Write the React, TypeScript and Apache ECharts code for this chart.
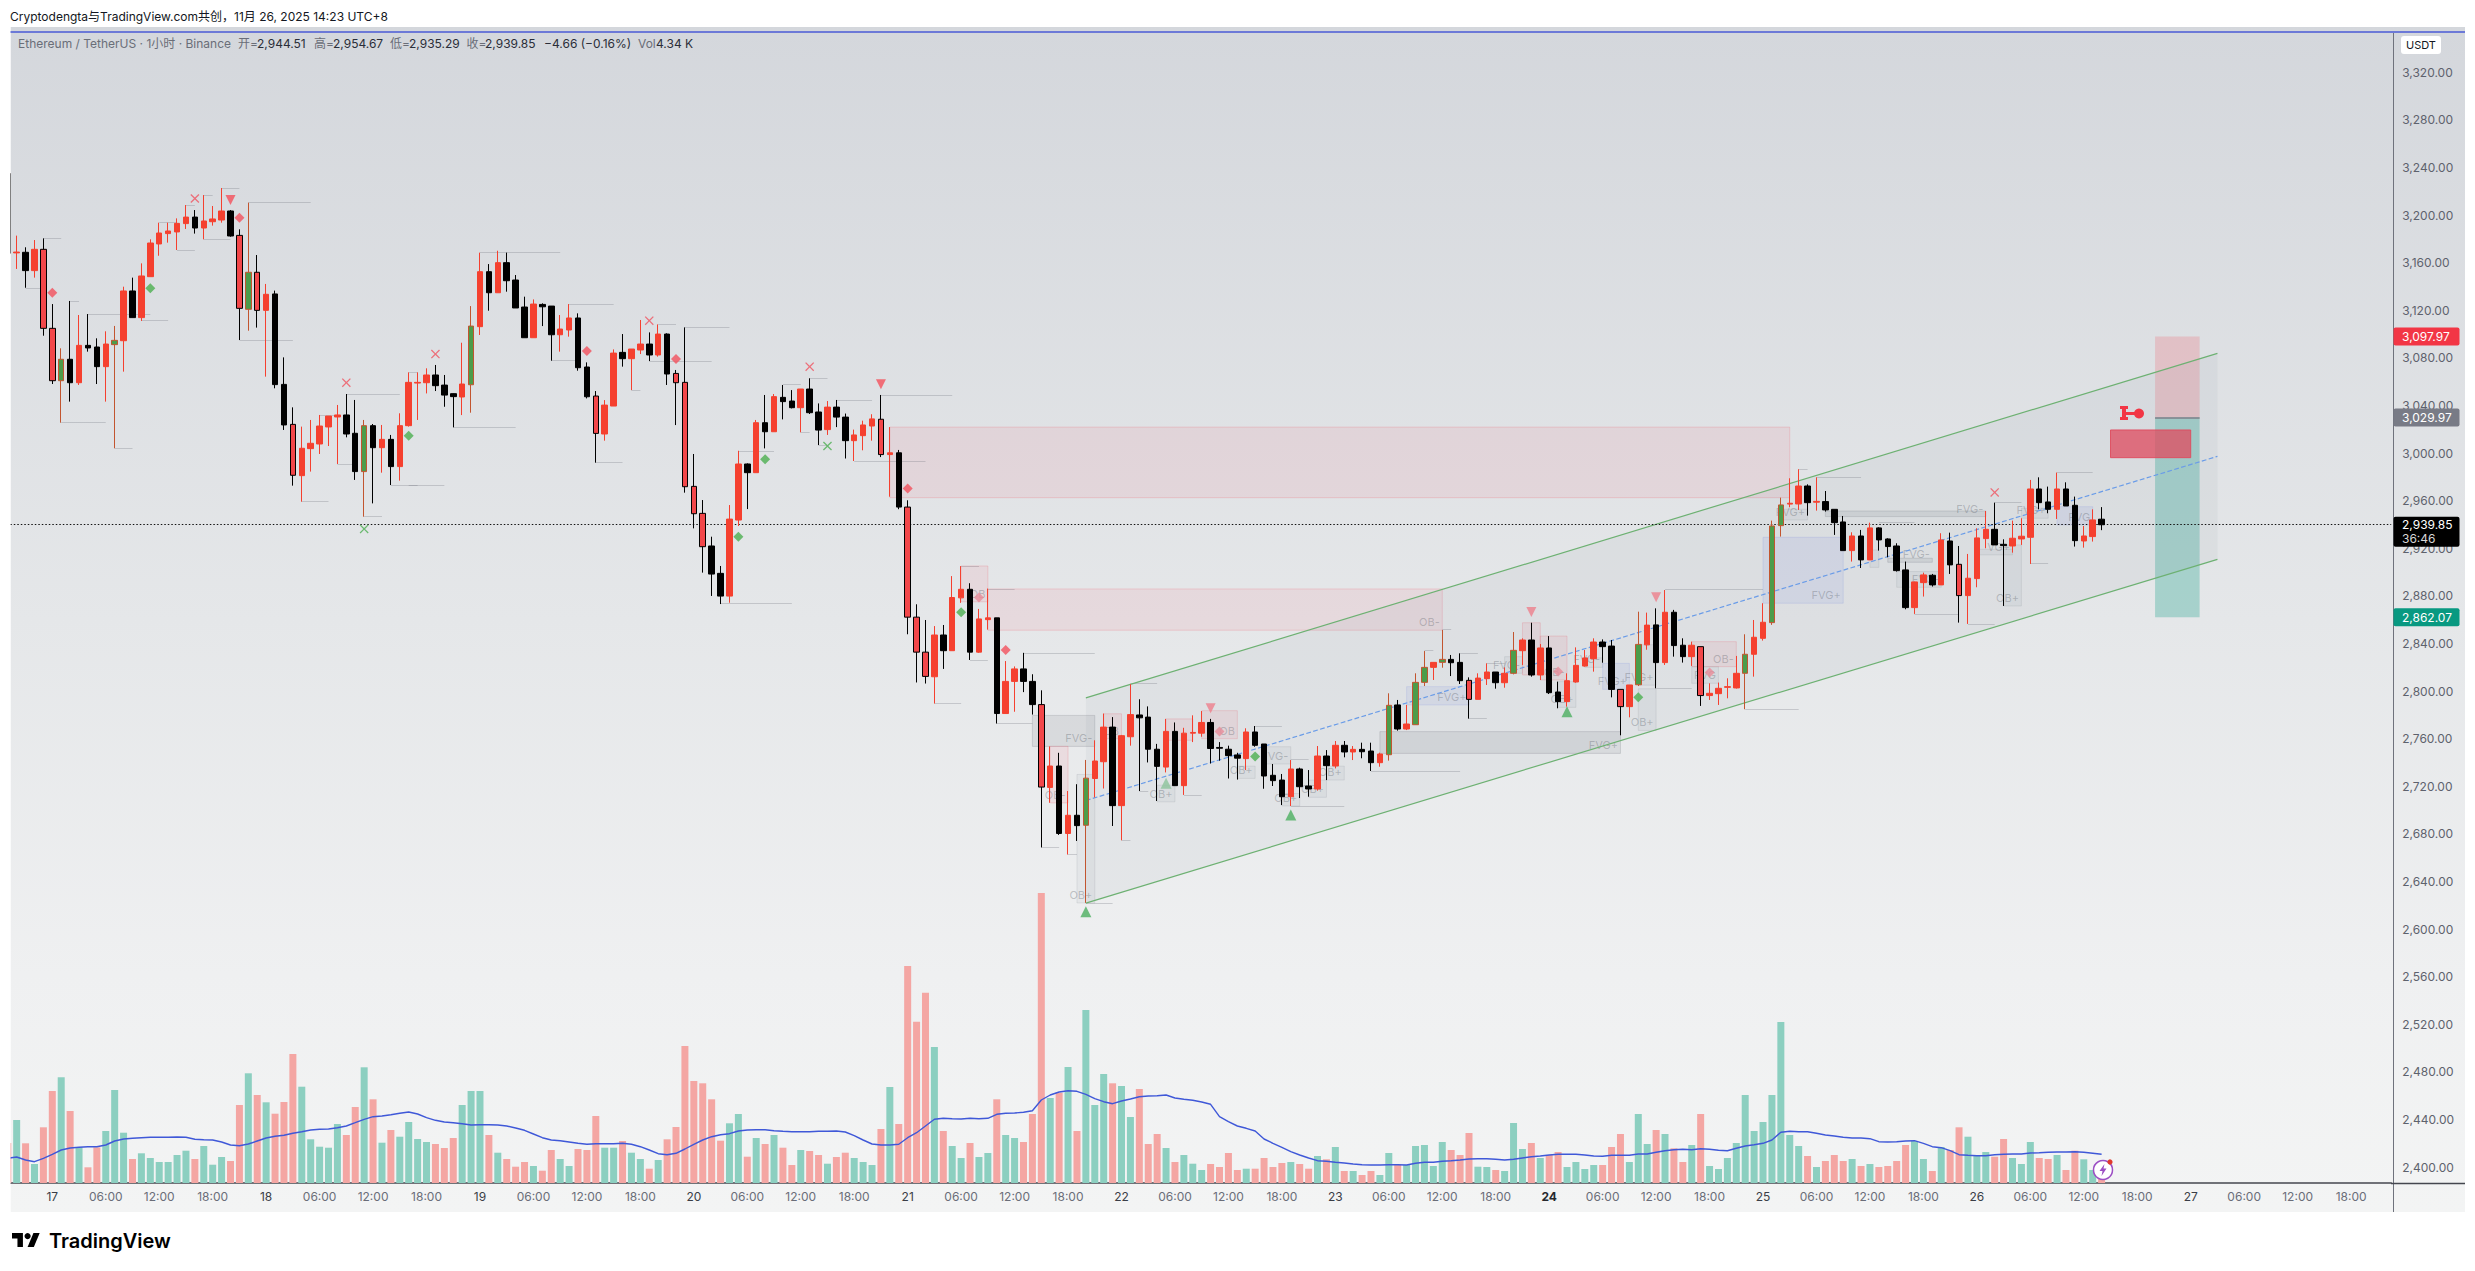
import React, { useEffect, useRef } from "react";
import * as echarts from "echarts";

type Row = [string, number, number, number, number];

// Candles. Columns: kind, body top, body bottom, high, low.
// Kinds: r = up, red; k = down, black; o = down, red with black outline; g = up, green with brown outline.
const nov16: Row[] = [
  ["o",3235,3168,3235,3168],["r",3169,3168.3,3182.8,3154.8],["k",3168.8,3153.4,3173,3139],["r",3171.3,3153.4,3179.1,3147.5],["o",3171.3,3104.9,3180.5,3098.7],
];
const nov17: Row[] = [
  ["o",3104.9,3060.9,3125.3,3058.1],["g",3078.9,3060.9,3088.1,3025.6],["k",3078.9,3059.2,3127.9,3043.3],["r",3090.6,3059.2,3116.1,3057.3],["k",3090.6,3088.4,3116.9,3085.3],["k",3089.2,3072.7,3096.5,3058.1],
  ["r",3091.7,3072.7,3102.4,3043.3],["g",3094.8,3091.2,3106.9,3004.1],["r",3136.3,3094.5,3139.9,3068.5],["k",3136.3,3113.9,3147.5,3113.9],["r",3148.9,3113.9,3159.5,3111.1],["r",3176.6,3148.3,3179.7,3148.3],
  ["r",3185,3175.8,3193.7,3165.9],["r",3186.7,3184.5,3193.7,3176.9],["r",3193.1,3185.9,3197.3,3170.7],["r",3198.4,3192.9,3208.5,3188.4],["k",3198.4,3189.2,3204.3,3184.5],["r",3195.1,3189.2,3216.9,3179.7],
  ["r",3196.8,3194.5,3207.7,3191.2],["r",3203.5,3195.9,3222.8,3193.7],["k",3203.5,3182.5,3204.3,3181.9],["o",3183,3121.7,3188.1,3095.1],["g",3152,3120.9,3210.5,3102.9],["o",3152,3120,3166.5,3105.5],
];
const nov18: Row[] = [
  ["r",3133.5,3120,3142.2,3064.3],["k",3133.8,3057.6,3136.6,3054.5],["k",3057.8,3023.7,3080.5,3019.5],["o",3024.2,2981.4,3038.5,2972.7],["r",3004.1,2981.1,3022.3,2959.2],["r",3008.3,3003.8,3027.9,2984.5],
  ["r",3022.8,3007.7,3032.1,2999.3],["r",3031.2,3022,3031.2,3006],["r",3032.1,3030.4,3040.5,2990.9],["k",3032.1,3016.1,3049.7,3013.3],["k",3016.7,2984.5,3044.7,2977.5],["g",3023.1,2984.5,3027.9,2946.6],
  ["k",3023.1,3004.6,3024.5,2957.8],["r",3011.6,3004.6,3023.7,2983.6],["k",3011.6,2988.7,3015.3,2973.2],["r",3023.1,2988.7,3033.5,2976.9],["r",3059.5,3023.1,3067.9,3022.3],["r",3059.5,3058.9,3067.9,3027.9],
  ["r",3065.7,3059.2,3071.3,3050.2],["k",3065.7,3056.7,3074.1,3052.2],["k",3057.2,3048.8,3065.7,3039],["k",3050,3047.5,3050.2,3021.7],["r",3058.1,3047.2,3092.8,3032],["g",3106.8,3057.5,3123.6,3034],
];
const nov19: Row[] = [
  ["r",3152.5,3106.3,3168.5,3099.3],["k",3152.5,3134.8,3158.9,3119.7],["r",3160.1,3134.8,3170.1,3134.8],["k",3160.1,3144.9,3168.5,3135.7],["k",3145.5,3122,3149.7,3122],["k",3122.8,3097,3131.5,3097],
  ["r",3125.3,3097,3129.2,3097],["k",3125,3123,3125.9,3106.8],["k",3123.6,3099.5,3123.6,3077.7],["r",3104.3,3099.5,3116.1,3085.3],["r",3113.6,3103.5,3125.3,3097.9],["k",3113.6,3071.8,3117.5,3069.3],
  ["k",3072.4,3047.4,3076.3,3046],["o",3048,3016.6,3052.2,2992],["r",3040.4,3016.1,3044.6,3010.5],["r",3084.1,3039.6,3087.2,3039.6],["k",3084.7,3079.4,3100.1,3072.7],["r",3087.5,3079.4,3087.5,3053],
  ["r",3091.7,3086.7,3111.9,3083.3],["k",3091.7,3082.5,3101.5,3077.4],["r",3100.1,3082.5,3108.2,3081.1],["k",3100.1,3066.5,3100.7,3057.3],["o",3067,3059.2,3069.9,3023.6],["o",3059.5,2971.8,3105.7,2966.8],
];
const nov20: Row[] = [
  ["o",2972.1,2949.1,2999.3,2936.8],["o",2949.4,2921.4,2960.6,2899.6],["k",2922,2898.4,2929.8,2880],["k",2899,2879.9,2905.2,2873.2],["r",2944.6,2879.9,2956.4,2874.3],["r",2990.9,2943.8,3002,2938.8],
  ["k",2990.9,2983.6,2991.4,2953],["r",3025.6,2983.6,3027.9,2983.6],["k",3025.6,3018,3048.9,3004],["r",3047.5,3018,3049.7,3018],["k",3046.9,3043.3,3057.3,3028.4],["k",3043.8,3038.2,3053,3037.6],
  ["r",3053.9,3038.2,3053.9,3017.5],["k",3053.9,3034,3062.9,3032.9],["k",3034.6,3019.4,3041.8,3006.8],["r",3038.7,3019.8,3043.8,3015.3],["k",3038.7,3030.3,3044.7,3021.9],["k",3030.3,3010.5,3033.3,2995.5],
  ["r",3015.3,3010.5,3019.8,2993.4],["r",3023.7,3014.7,3027.3,3002.4],["r",3028.8,3022.8,3032.7,3010.5],["o",3028.5,2998.8,3048.9,2996.7],["r",3000.3,2998.8,3021.9,2963.4],["k",3000.3,2954.7,3002.7,2952.9],
];
const nov21: Row[] = [
  ["o",2954.7,2862.2,2960.4,2847.8],["o",2862.2,2832.8,2873,2807.3],["o",2832.8,2812.4,2859.8,2806.4],["r",2847.2,2812.1,2854.7,2789.6],["k",2847.2,2834,2855.6,2818.7],["r",2878.7,2834,2896.7,2834],
  ["r",2885.6,2878.4,2905.1,2874.2],["k",2885.6,2832.8,2890.7,2826.2],["r",2860.7,2832.8,2869.1,2832.2],["r",2861.6,2860.1,2886.2,2851.7],["k",2861.6,2781.2,2861.6,2772.8],["r",2808.2,2781.2,2825.3,2781.2],
  ["r",2818.7,2808.2,2820.8,2782.7],["k",2818.7,2808.2,2832.2,2799.2],["k",2808.2,2788.7,2814.2,2780.3],["o",2788.7,2719.4,2800.7,2668.7],["r",2737.1,2719.1,2753.6,2706.2],["k",2737.1,2680.4,2748.2,2679.2],
  ["r",2695.7,2680.4,2716.1,2662.7],["k",2695.7,2687,2721.8,2674.1],["g",2726.9,2687.3,2742.2,2622.1],["r",2741.3,2726.6,2758.7,2710.7],["r",2769.8,2740.7,2781.2,2718.2],["k",2769.8,2703.8,2778.2,2686.7],
];
const nov22: Row[] = [
  ["r",2762.6,2703.8,2763.2,2674.7],["r",2780.3,2761.7,2805.8,2754.2],["k",2780,2777.6,2793.2,2716.1],["k",2778.2,2751.2,2787.2,2740.1],["k",2751.2,2736.8,2755.7,2707.7],["r",2766.2,2736.2,2776.7,2731.7],
  ["k",2766.2,2720.6,2773.7,2720.6],["r",2764.7,2720.6,2769.2,2712.8],["r",2765.3,2764.7,2779.7,2757.2],["r",2773.7,2764.7,2783.3,2761.7],["k",2773.7,2751.8,2776.7,2739.2],["k",2752.7,2752,2757.2,2741.6],
  ["k",2751.2,2745.8,2754.2,2726.6],["k",2746.4,2743.7,2748.2,2725.7],["r",2765.7,2743.3,2768.8,2733.7],["k",2765.7,2754.5,2770.7,2753.3],["k",2755.6,2728.7,2755.6,2718],["k",2729.3,2724.8,2738.8,2720.3],
  ["k",2725.3,2711.3,2730.4,2704.3],["r",2734.6,2711.3,2742.1,2703.5],["k",2734.6,2719.7,2735.7,2710.2],["k",2720.3,2717.8,2733.7,2711.3],["r",2745.5,2717.8,2753.9,2716.4],["k",2745.5,2737.4,2750.5,2725.3],
];
const nov23: Row[] = [
  ["r",2754.5,2737.1,2758.1,2735.1],["k",2754.5,2748.9,2758.1,2744.4],["r",2751.1,2748.9,2753.9,2742.1],["k",2751.1,2749.1,2756.7,2743.6],["k",2749.7,2739.9,2756.7,2732.9],["r",2747.2,2739.9,2748.3,2736.5],
  ["g",2788.1,2746.6,2798.2,2741.6],["k",2788.4,2768.2,2792.6,2766.8],["r",2772.4,2768.2,2788.4,2767.3],["g",2807.4,2771.8,2815,2771.8],["g",2820,2807.4,2833.7,2804.3],["r",2824.2,2820,2824.2,2809.4],
  ["g",2826.7,2824.2,2851.4,2819.7],["k",2826.7,2823.9,2830.4,2812.7],["k",2824.2,2808.8,2831.8,2806],["o",2809.1,2793.1,2811.6,2776.9],["r",2811,2793.1,2815,2793.1],["r",2816.1,2810.5,2823.4,2805.2],
  ["k",2816.1,2807.1,2816.1,2802.1],["r",2815,2807.1,2820,2802.9],["g",2834.3,2815,2849.7,2814.1],["r",2843,2834,2844.4,2822],["k",2843,2813.6,2857.5,2812.2],["r",2836.3,2813.6,2839.6,2809.4],
];
const nov24: Row[] = [
  ["k",2836.3,2798.7,2846.3,2797.6],["k",2799.3,2791.2,2808,2785.6],["r",2808.8,2791.2,2815,2787],["r",2821.7,2807.7,2836.8,2807.1],["r",2827.9,2821.1,2834.6,2820.6],["r",2841.3,2827.3,2844.4,2816.4],
  ["k",2841.3,2837.4,2843.5,2823.9],["k",2837.9,2801.5,2843,2794.8],["o",2801.5,2787,2801.5,2762.9],["r",2805.2,2787,2805.2,2778],["g",2839.3,2805.4,2866.8,2804.3],["r",2855.5,2838.9,2866,2834.8],
  ["k",2855.7,2824,2869.6,2802.4],["r",2866.3,2824,2885,2822],["k",2866.3,2838.3,2868.3,2829],["k",2838.6,2829,2844.4,2824],["r",2838.6,2829,2841.6,2821.2],["o",2837.4,2796.3,2837.4,2787.6],
  ["r",2798.2,2796.3,2806.6,2792.6],["r",2802.4,2797.9,2807.2,2788.4],["r",2803.8,2803.2,2810.8,2794],["r",2815,2802.7,2829.6,2802.2],["g",2831,2815,2847.8,2784.8],["r",2845.3,2831,2859.8,2812.2],
];
const nov25: Row[] = [
  ["r",2857.9,2844.4,2873.9,2842.5],["g",2938.8,2857.6,2943.3,2855.7],["g",2956.5,2939.1,2962.6,2929.9],["r",2957.9,2957.2,2978.9,2954.5],["r",2972.4,2957.3,2986.5,2952.3],["k",2972.4,2958.4,2973.8,2947.5],
  ["r",2959.5,2958.8,2979.7,2951.7],["k",2959.3,2952.3,2968.2,2950.9],["k",2952.8,2941.6,2952.8,2931.3],["k",2942.2,2918.1,2947.2,2918.1],["r",2930.4,2918.1,2933.5,2908.9],["k",2930.4,2910.3,2935.5,2903.5],
  ["r",2937.2,2910.3,2941.6,2910.3],["k",2937.2,2927.1,2937.7,2918.1],["k",2927.9,2921.5,2928.5,2912.5],["k",2922,2901.3,2924.3,2900.5],["k",2901.9,2870.2,2908.9,2868.8],["r",2891.8,2870.2,2892.1,2864.9],
  ["r",2897.7,2891.2,2899.6,2879.5],["k",2897.4,2889.3,2898.5,2887.9],["r",2927.1,2889.3,2932.7,2889.3],["k",2926.2,2906.1,2933.2,2898.5],["o",2906.6,2880.3,2922,2857.6],["r",2894.9,2880.3,2915.3,2856.5],
];
const nov26: Row[] = [
  ["r",2928.8,2894.6,2936.9,2887.3],["r",2936,2928.2,2951.4,2920.1],["k",2936,2922.9,2958.4,2922.9],["k",2923.4,2922.3,2927.6,2871.6],["r",2928.5,2922,2943.3,2916.4],["r",2930.2,2927.9,2945.3,2922.9],
  ["r",2969.9,2929.3,2977.5,2906.9],["k",2969.9,2958.4,2979.7,2952.8],["k",2959,2952.8,2971.9,2949.5],["r",2969.9,2952.8,2983.7,2944.7],["k",2969.9,2955.6,2975.5,2955.6],["k",2956.2,2926.5,2963.5,2921.5],
  ["r",2930.4,2926.2,2938.8,2920.6],["r",2943.9,2929.9,2952.8,2925.7],["k",2944.51,2939.85,2954.67,2935.29],
];
const candleDays = [nov16, nov17, nov18, nov19, nov20, nov21, nov22, nov23, nov24, nov25, nov26];

// Hourly volume in thousands.
const vol16 = [40,63,39.7,19,55.7];
const vol17 = [92,105.7,72,35.7,15.7,35.7,52,93,50.3,24,29.7,25,21,21,28,32.3,24,37,18.3,26,22,78,109.7,88];
const vol18 = [80.7,69.3,81,129,96.3,43.7,36.3,35.3,59,48,76,115.7,83.7,40.3,53,46.3,61,44,41,39,35,45,78,92];
const vol19 = [92,48,30.3,24,16.3,21,17,12.3,33,24,17,34,33,67,35.3,35.3,42,30.3,24,14.3,23,43.7,56,137];
const vol20 = [102,99.7,83.7,42.3,59.7,69,26.3,45,39,48,35.3,18,33,32,28,19.3,26,30.3,25,21,18,54,96,59];
const vol21 = [217,161.3,190.3,136,52,37,25,40,26,30,83.7,48,45,41,69,290,85,90.3,116,52,173,78,109,99.7];
const vol22 = [97,66,94,39,49,35,21,28,19.3,13,19,16,30,13,14.3,14.3,25,16,20,21,19,14.3,27,23.7];
const vol23 = [36,12,12,8,12,8,30,18,18,37,38,17,41,33,28,50,16.3,16,13,12,60,34,40,25];
const vol24 = [28,31,16,21,14,18,18,36,49,21,69,39,53,49,34.7,21,38,69,17,14,25,40,88,52];
const vol25 = [61,88,161,48,37,27,16,22,28,22,24,17,19,16,17,22,38,42,24,12,36,33,55.7,46.3];
const vol26 = [28,31,26.3,44,25,19,41,25,24,28,13,32.3,23.7,13,4.34];
const volumes = [vol16, vol17, vol18, vol19, vol20, vol21, vol22, vol23, vol24, vol25, vol26].flat();

// Moving average of volume.
const ma16 = [24.7,26,23,21.3,24.7];
const ma17 = [28.7,33,35,35.7,36.3,36.3,38,42,44,44.7,45.3,45.7,45.7,45.7,46,45.7,43.7,43.3,43,41,38,37.3,39,42];
const ma18 = [45,46.7,47.7,49.7,51.3,53,53.7,54,55.3,57,60.3,63.7,66.3,67,68.3,69.7,71,69,65.3,62.7,61,60.3,59.3,58];
const ma19 = [58.3,58.3,58,57,55,52.7,49,45.3,43,42.3,41,39.7,38.7,39.3,39.3,39.3,39.7,38.7,36.3,33,29.3,28.3,29.7,34];
const ma20 = [38.7,43,46.3,48.3,49.3,52,53,53.3,53.3,52.3,51.7,51.3,51.3,51.3,51.7,51.7,52,51,47.3,43,39,38,38,38.7];
const ma21 = [45.3,50.3,57,63.7,64.7,64.3,64,64.7,64.3,64.7,68.7,69.7,70,70.7,72.3,83,88,91,92.3,91.7,88.7,84.3,81.3,79.3];
const ma22 = [82,84,86.3,87,87.3,88,85,83.7,82.7,81,78.7,66.3,61.3,57,54.7,52,44,39.7,35.7,31.3,28,25,22.3,21.7];
const ma23 = [20.7,20,19,18.3,18,18,18.3,18.3,18,19.7,20.7,20.7,21.7,22.3,23,24,24.3,24.3,23.7,23,23.7,25,26.3,27];
const ma24 = [28,28.7,28.7,28.7,28,27,26.7,27.7,27.7,27.7,29,29,30.7,32.3,33.3,33.7,33.3,34.3,33.7,32.7,32.3,34.7,37,38.3];
const ma25 = [39.7,43,50.7,51.7,51.3,51.3,49.7,48,47,45.7,45,45,44.3,41.3,41,41.3,42,42.3,39.7,36.3,35.3,32.3,28.3,27.7];
const ma26 = [27.3,27.3,28.3,28.7,29,29,30,30.3,30.7,31,31,31.3,30.7,29.7,28.7];
const volumeMa = [ma16, ma17, ma18, ma19, ma20, ma21, ma22, ma23, ma24, ma25, ma26].flat();

// Hours from 17 Nov 00:00 (negative = 16 Nov). Last slot on the axis is +262.
const firstHour = -5;
const lastHour = 262;

const priceTicksMin = 2360;
const priceTicksMax = 3360;
const lastPrice = 2939.85;
const stopPrice = 3097.97;
const entryPrice = 3029.97;
const targetPrice = 2862.07;

// Markers: [hour, price]
const crossRed = [[16,3214],[33,3059.2],[43,3083.3],[67,3111.3],[85,3072.7],[218,2967]];
const triangleDown = [[20,3212.7],[93,3057.9]];
const triangleDownPale = [[130,2785.7],[166,2866.5],[180,2878.9]];
const diamondRed = [[0,3134.9],[21,3197.9],[60,3085.8],[70,3079.1],[96,2970.3],[107,2834.6]];
const diamondPale = [[104,2878.7],[131,2766.2],[169,2816.6],[186,2815.6]];
const diamondGreen = [[11,3138.5],[40,3014.7],[77,2929.8],[80,2994.8],[102,2866.4],[135,2745],[178,2794.8]];
const crossGreen = [[35,2936.3],[87,3006]];
const triangleUp = [[116,2614.7],[139,2696],[170,2782.8]];
const triangleUpPale = [[125,2722.7]];

// Zones: [from hour, to hour, top, bottom, style, label]
const zones: [number, number, number, number, string, string][] = [
  [94,195,3021.9,2962.6,"red",""],
  [105,156,2885.9,2851.2,"red","OB-"],
  [102,105,2905.2,2875.1,"red","OB"],
  [110,117,2779.6,2753.6,"gray","FVG-"],
  [112,114,2753.6,2706.1,"red","OB-"],
  [115,117,2730,2622,"light","OB+"],
  [118,120,2781,2760,"red","OB"],
  [124,126,2721,2707,"light","OB+"],
  [125,128,2776.7,2758.7,"red",""],
  [129,133,2783.6,2760,"red","OB"],
  [133,135,2737,2726.7,"light","OB+"],
  [136,139,2753.3,2738.8,"light","FVG-"],
  [138,140,2714,2703.5,"light","OB+"],
  [141,143,2725.3,2710.8,"light","OB+"],
  [143,145,2737,2725.3,"light","OB+"],
  [149,176,2766,2747.7,"gray","FVG+"],
  [152,159,2803.8,2788.4,"blue","FVG+"],
  [163,165,2829,2815,"light","FVG-"],
  [165,167,2857.5,2813.6,"red",""],
  [167,170,2846.3,2809.4,"red","OB-"],
  [169,171,2808,2786.4,"light","OB+"],
  [172,174,2828,2820,"light","FVG-"],
  [174,177,2823.4,2801.5,"blue","FVG+"],
  [178,180,2802,2767,"light","OB+"],
  [178,180,2839,2805,"light","FVG+"],
  [184,189,2841.6,2820.6,"red","OB-"],
  [184,187,2820.6,2806.6,"light","FVG"],
  [192,201,2929.3,2873.9,"blue","FVG+"],
  [194,197,2952.9,2943.9,"light","FVG+"],
  [199,217,2951.4,2946.7,"gray","FVG-"],
  [204,205,2918.6,2904,"light",""],
  [206,211,2911.7,2908.3,"gray","FVG-"],
  [207,212,2900.5,2887.3,"light","FVG-"],
  [216,220,2919.2,2914.5,"light","VG+"],
  [219,221,2922.9,2871.6,"light","OB+"],
  [221,224,2953.7,2945.3,"light","FVG+"],
  [225,229,2955,2939.7,"blue","FVG"],
];

// Swing-level marks: [from hour, to hour, price]
const swingLevels = [
  [-1,1,3180.5],[-3,-1,3139],[2,3,3127.9],[4,11,3116.9],[10,13,3111.6],[1,6,3025.6],[7,9,3004],[12,14,3193.7],[14,16,3170.7],[15,16,3208.5],[17,18,3217],[17,20,3179.7],
  [19,21,3223],[22,29,3210.5],[21,27,3095],[33,39,3049.7],[28,31,2959.2],[30,32,3032],[32,34,2991],[35,37,2946.6],[38,41,2973.2],[40,41,3068],[48,57,3169],[45,52,3021.7],
  [58,63,3125.3],[56,59,3077.7],[68,70,3108],[71,76,3105.7],[67,74,3077.4],[61,64,2992],[65,66,3053],[82,84,3057.8],[85,87,3063],[77,81,3002],[75,83,2873.5],[40,44,2973],
  [84,85,3017.5],[86,87,3006.3],[88,92,3044.7],[90,98,2993.4],[93,101,3049],[99,102,2789.6],[102,104,2905],[103,105,2826],[105,108,2886],[106,110,2773],[109,117,2832.2],
  [111,113,2668.7],[114,115,2662.7],[116,119,2622],[121,124,2806.7],[122,123,2716],[127,129,2712.8],[120,121,2674.7],[135,138,2770.7],[139,141,2742.7],[139,145,2703.5],
  [148,158,2733],[156,157,2851.9],[158,160,2831.8],[154,155,2834],[159,161,2776.9],[161,163,2823.4],[181,192,2885.6],[180,184,2802.4],[190,196,2784.8],[196,197,2986.5],
  [198,203,2979.7],[205,209,2942],[209,214,2864.9],[215,218,2856.5],[222,224,2907.5],[225,229,2983.7],[218,221,2958.4],
];

// Rising channel: [hour, price] ends
const channelHours = [116, 243];
const channelUpper = [2794.3, 3083.9];
const channelLower = [2621.9, 2910.8];
const channelMiddle = [2708.1, 2997.3];

const positionHours = [236, 241];
const signalBox = [231, 240, 3019.5, 2996.2];

const axisFont = "Inter, 'Noto Sans', sans-serif";
const cjkFont = "Inter, 'Noto Sans CJK SC', sans-serif";

const kindStyle: Record<string, { fill: string; edge: string }> = {
  r: { fill: "#f5402f", edge: "#f5402f" },
  k: { fill: "#000000", edge: "#000000" },
  o: { fill: "#f2474a", edge: "#000000" },
  g: { fill: "#4c9c4a", edge: "#c2552f" },
};

const zoneStyle: Record<string, { fill: string; edge: string }> = {
  red: { fill: "rgba(239,83,100,0.09)", edge: "rgba(239,83,100,0.2)" },
  gray: { fill: "rgba(110,113,125,0.13)", edge: "rgba(110,113,125,0.22)" },
  blue: { fill: "rgba(90,110,235,0.09)", edge: "rgba(90,110,235,0.14)" },
  light: { fill: "rgba(120,130,135,0.07)", edge: "rgba(120,130,135,0.15)" },
};

const idx = (hour: number) => hour - firstHour;

function hourLabel(hour: number): string {
  const h = ((hour % 24) + 24) % 24;
  if (h === 0) {
    const day = 17 + hour / 24;
    return day === 24 ? `{bold|${day}}` : `{day|${day}}`;
  }
  return `${String(h).padStart(2, "0")}:00`;
}

const formatPrice = (p: number) =>
  p.toLocaleString("en-US", { minimumFractionDigits: 2, maximumFractionDigits: 2 });

function buildOption() {
  const hours: string[] = [];
  for (let h = firstHour; h <= lastHour; h++) hours.push(String(h));
  const candles = candleDays.flat();
  const bandWidth = 8.91;
  const gridLeft = 3.3;
  const gridWidth = bandWidth * hours.length;

  const candleData = candles.map((c) => {
    const [kind, top, bottom, high, low] = c;
    const up = kind === "r" || kind === "g";
    const st = kindStyle[kind];
    return {
      value: [up ? bottom : top, up ? top : bottom, low, high],
      itemStyle: {
        color: st.fill,
        color0: st.fill,
        borderColor: st.edge,
        borderColor0: st.edge,
        borderColorDoji: st.edge,
        borderWidth: 1,
      },
    };
  });

  const volumeData = volumes.map((v, i) => {
    const kind = candles[i][0];
    const up = kind === "r" || kind === "g";
    return { value: v, itemStyle: { color: up ? "#8ccfc0" : "#f4a6a3" } };
  });

  const zoneData = zones.map(([a, b, top, bottom, style, label]) => [
    {
      xAxis: idx(a),
      yAxis: top,
      name: label,
      itemStyle: { color: zoneStyle[style].fill, borderColor: zoneStyle[style].edge, borderWidth: 1 },
      label: {
        show: !!label,
        position: "insideBottomRight",
        distance: 3,
        color: "rgba(70,75,85,0.3)",
        fontSize: 11,
        fontFamily: axisFont,
      },
    },
    { xAxis: idx(b), yAxis: bottom },
  ]);

  const levelData = swingLevels.map(([a, b, p]) => [
    { xAxis: idx(a), yAxis: p },
    { xAxis: idx(b), yAxis: p },
  ]);

  const channelLine = (prices: number[], color: string, type: string) => [
    { xAxis: idx(channelHours[0]), yAxis: prices[0], lineStyle: { color, width: 1.2, type } },
    { xAxis: idx(channelHours[1]), yAxis: prices[1] },
  ];

  const scatter = (data: number[][], symbol: string, size: number, color: string, rotate = 0) => ({
    type: "scatter",
    xAxisIndex: 0,
    yAxisIndex: 0,
    symbol,
    symbolSize: size,
    symbolRotate: rotate,
    itemStyle: { color },
    z: 8,
    silent: true,
    data: data.map(([h, p]) => [idx(h), p]),
  });
  const crossPath = "path://M1 0 L5 4 L9 0 L10 1 L6 5 L10 9 L9 10 L5 6 L1 10 L0 9 L4 5 L0 1 Z";

  return {
    animation: false,
    backgroundColor: "#ffffff",
    textStyle: { fontFamily: axisFont },
    grid: [
      { left: gridLeft, top: 24.76, width: gridWidth, height: 1190 },
      { left: gridLeft, top: 33, width: gridWidth, height: 1150 },
    ],
    xAxis: [
      { type: "category", gridIndex: 0, data: hours, show: false, boundaryGap: true },
      {
        type: "category",
        gridIndex: 1,
        data: hours,
        boundaryGap: true,
        axisLine: { lineStyle: { color: "#45474f", width: 1.5 } },
        axisTick: { show: false },
        splitLine: { show: false },
        axisLabel: {
          interval: (i: number) => (i + firstHour) % 6 === 0 && i + firstHour >= 0,
          formatter: (_: string, i: number) => hourLabel(i + firstHour),
          color: "#6a6d78",
          fontFamily: axisFont,
          fontSize: 12,
          margin: 7,
          rich: {
            day: { color: "#3a3d46", fontSize: 12, fontFamily: axisFont },
            bold: { color: "#26282e", fontSize: 12, fontWeight: 700, fontFamily: axisFont },
          },
        },
      },
    ],
    yAxis: [
      {
        type: "value",
        gridIndex: 0,
        position: "right",
        min: priceTicksMin,
        max: priceTicksMax,
        interval: 40,
        axisLine: { show: false },
        axisTick: { show: false },
        splitLine: { show: false },
        axisLabel: {
          margin: 11,
          color: "#5e626d",
          fontFamily: axisFont,
          fontSize: 12,
          padding: [0, 0, 2, 0],
          formatter: (v: number) => (v === priceTicksMin || v === priceTicksMax ? "" : formatPrice(v)),
        },
      },
      { type: "value", gridIndex: 1, min: 0, max: 1150, show: false, splitLine: { show: false } },
    ],
    series: [
      {
        type: "bar",
        xAxisIndex: 1,
        yAxisIndex: 1,
        barWidth: 7,
        z: 1,
        silent: true,
        data: volumeData,
      },
      {
        type: "line",
        xAxisIndex: 1,
        yAxisIndex: 1,
        showSymbol: false,
        symbol: "none",
        z: 2,
        silent: true,
        lineStyle: { color: "#3f58d8", width: 1.4 },
        data: volumeMa,
      },
      {
        type: "custom",
        xAxisIndex: 0,
        yAxisIndex: 0,
        z: 2,
        silent: true,
        data: [[idx(channelHours[0]), channelUpper[0]]],
        renderItem: (_: unknown, api: any) => {
          const pts = [
            api.coord([idx(channelHours[0]), channelUpper[0]]),
            api.coord([idx(channelHours[1]), channelUpper[1]]),
            api.coord([idx(channelHours[1]), channelLower[1]]),
            api.coord([idx(channelHours[0]), channelLower[0]]),
          ];
          return { type: "polygon", shape: { points: pts }, style: { fill: "rgba(120,130,145,0.075)" } };
        },
      },
      {
        type: "line",
        xAxisIndex: 0,
        yAxisIndex: 0,
        z: 3,
        silent: true,
        data: [],
        markArea: {
          silent: true,
          data: [
            ...zoneData,
            [
              { xAxis: idx(positionHours[0]), yAxis: stopPrice, itemStyle: { color: "rgba(242,54,69,0.18)" } },
              { xAxis: idx(positionHours[1]), yAxis: entryPrice },
            ],
            [
              { xAxis: idx(positionHours[0]), yAxis: entryPrice, itemStyle: { color: "rgba(8,153,129,0.28)" } },
              { xAxis: idx(positionHours[1]), yAxis: targetPrice },
            ],
            [
              { xAxis: idx(signalBox[0]), yAxis: signalBox[2], itemStyle: { color: "rgba(232,70,90,0.75)", borderColor: "rgba(232,70,90,0.9)", borderWidth: 1 } },
              { xAxis: idx(signalBox[1]), yAxis: signalBox[3] },
            ],
          ],
        },
      },
      {
        type: "line",
        xAxisIndex: 0,
        yAxisIndex: 0,
        z: 4,
        silent: true,
        data: [],
        markLine: {
          silent: true,
          symbol: "none",
          label: { show: false },
          lineStyle: { color: "rgba(115,118,128,0.3)", width: 1, type: "solid" },
          data: [
            ...levelData,
            channelLine(channelUpper, "#6db172", "solid"),
            channelLine(channelLower, "#6db172", "solid"),
            channelLine(channelMiddle, "#6a9ce8", "dashed"),
            [
              { xAxis: idx(positionHours[0]), yAxis: entryPrice, lineStyle: { color: "#7c7f88", width: 1.5, type: "solid" } },
              { xAxis: idx(positionHours[1]), yAxis: entryPrice },
            ],
          ],
        },
      },
      {
        type: "candlestick",
        xAxisIndex: 0,
        yAxisIndex: 0,
        barWidth: 6,
        z: 6,
        silent: true,
        data: candleData,
      },
      {
        type: "line",
        xAxisIndex: 0,
        yAxisIndex: 0,
        z: 7,
        silent: true,
        data: [],
        markLine: {
          silent: true,
          symbol: "none",
          label: { show: false },
          lineStyle: { color: "#111111", width: 1, type: [1.5, 2] },
          data: [{ yAxis: lastPrice }],
        },
      },
      scatter(crossRed, crossPath, 9, "#f0525f"),
      scatter(triangleDown, "triangle", 10, "#f4505b", 180),
      scatter(triangleDownPale, "triangle", 10, "#ee7f8c", 180),
      scatter(diamondRed, "diamond", 10, "#f2505c"),
      scatter(diamondPale, "diamond", 10, "#e98b98"),
      scatter(diamondGreen, "diamond", 10, "#4caf50"),
      scatter(crossGreen, crossPath, 9, "#4caf50"),
      scatter(triangleUp, "triangle", 11, "#4caf60"),
      scatter(triangleUpPale, "triangle", 11, "#8cc39b"),
    ],
  };
}

function overlayGraphics(chart: echarts.ECharts) {
  const yOf = (p: number) => chart.convertToPixel({ yAxisIndex: 0 }, p) as number;
  const top = 27;
  const bottom = 1212;
  const panelLeft = 10.5;
  const panelRight = 2465;
  const axisX = 2393.5;

  const label = (x: number, y: number, text: string, fill: string, fontSize = 12, extra: object = {}) => ({
    type: "text",
    x,
    y,
    z: 70,
    silent: true,
    style: { text, fill, fontSize, fontFamily: cjkFont, verticalAlign: "middle", align: "left", ...extra },
  });
  const tag = (price: number, fill: string) => ({
    type: "group",
    z: 70,
    silent: true,
    children: [
      {
        type: "rect",
        z: 70,
        shape: { x: axisX, y: yOf(price) - 9, width: 66, height: 18, r: 2 },
        style: { fill },
      },
      label(axisX + 8.5, yOf(price), formatPrice(price), "#ffffff"),
    ],
  });

  const legendGray = "#6a6e78";
  const legendDark = "#2a2e39";

  return [
    {
      type: "rect",
      z: -5,
      silent: true,
      shape: { x: panelLeft, y: top, width: panelRight - panelLeft, height: bottom - top },
      style: {
        fill: {
          type: "linear",
          x: 0,
          y: 0,
          x2: 0,
          y2: 1,
          colorStops: [
            { offset: 0, color: "#d4d7dc" },
            { offset: 0.5, color: "#e5e7e9" },
            { offset: 0.8, color: "#eff0f1" },
            { offset: 1, color: "#f3f4f4" },
          ],
        },
      },
    },
    { type: "rect", z: 60, silent: true, shape: { x: 0, y: 0, width: panelLeft, height: 1271 }, style: { fill: "#ffffff" } },
    { type: "rect", z: 60, silent: true, shape: { x: 0, y: 0, width: 2475, height: top }, style: { fill: "#ffffff" } },
    { type: "line", z: 61, silent: true, shape: { x1: panelLeft, y1: 32, x2: panelRight, y2: 32 }, style: { stroke: "#4a5ad6", lineWidth: 1.5 } },
    { type: "line", z: 61, silent: true, shape: { x1: axisX, y1: 33, x2: axisX, y2: bottom }, style: { stroke: "#6f727c", lineWidth: 1 } },
    { type: "line", z: 61, silent: true, shape: { x1: 2391, y1: 1183.5, x2: panelRight, y2: 1183.5 }, style: { stroke: "#45474f", lineWidth: 1.5 } },

    label(10, 16, "Cryptodengta与TradingView.com共创，11月 26, 2025 14:23 UTC+8", "#131722", 12),
    label(18, 43, "Ethereum / TetherUS · 1小时 · Binance", legendGray),
    label(238, 43, "开=", legendGray),
    label(257, 43, "2,944.51", legendDark),
    label(314, 43, "高=", legendGray),
    label(333, 43, "2,954.67", legendDark),
    label(390, 43, "低=", legendGray),
    label(409, 43, "2,935.29", legendDark),
    label(466.5, 43, "收=", legendGray),
    label(485, 43, "2,939.85", legendDark),
    label(544, 43, "−4.66 (−0.16%)", legendDark),
    label(638, 43, "Vol", legendGray),
    label(656, 43, "4.34 K", legendDark),

    { type: "rect", z: 65, silent: true, shape: { x: 2401, y: 36, width: 40, height: 18, r: 3 }, style: { fill: "#ffffff" } },
    label(2406, 45, "USDT", "#131722", 11),

    tag(stopPrice, "#f23645"),
    tag(entryPrice, "#787b86"),
    tag(targetPrice, "#089981"),
    {
      type: "group",
      z: 70,
      silent: true,
      children: [
        { type: "rect", z: 70, shape: { x: axisX, y: yOf(lastPrice) - 8, width: 66, height: 30, r: 2 }, style: { fill: "#000000" } },
        label(axisX + 8.5, yOf(lastPrice), formatPrice(lastPrice), "#ffffff"),
        label(axisX + 8.5, yOf(lastPrice) + 14, "36:46", "#d6d6d6"),
      ],
    },

    // Flag icon near the signal box
    {
      type: "group",
      z: 40,
      silent: true,
      x: 2120,
      y: 406,
      children: [
        { type: "rect", z: 40, shape: { x: 0, y: 0, width: 8, height: 3 }, style: { fill: "#f23645" } },
        { type: "rect", z: 40, shape: { x: 2, y: 0, width: 4, height: 14 }, style: { fill: "#f23645" } },
        { type: "rect", z: 40, shape: { x: 0, y: 11, width: 8, height: 3 }, style: { fill: "#f23645" } },
        { type: "rect", z: 40, shape: { x: 5, y: 6, width: 10, height: 3 }, style: { fill: "#f23645" } },
        { type: "circle", z: 40, shape: { cx: 19, cy: 7.5, r: 5 }, style: { fill: "#f23645" } },
      ],
    },

    // Lightning badge
    {
      type: "group",
      z: 40,
      silent: true,
      x: 2103,
      y: 1170,
      children: [
        { type: "circle", z: 40, shape: { cx: 0, cy: 0, r: 9.5 }, style: { fill: "#ffffff", stroke: "#9c4fc4", lineWidth: 1.5 } },
        { type: "polygon", z: 41, shape: { points: [[1.5, -6], [-3.5, 1], [-0.5, 1], [-1.5, 6], [3.5, -1.5], [0.5, -1.5]] }, style: { fill: "#9c4fc4" } },
        { type: "circle", z: 42, shape: { cx: 7, cy: -8, r: 2.6 }, style: { fill: "#e0392b" } },
      ],
    },

    // TradingView mark
    {
      type: "group",
      z: 70,
      silent: true,
      x: 12,
      y: 1233,
      scaleX: 0.78,
      scaleY: 0.78,
      children: [
        { type: "polygon", z: 70, shape: { points: [[0, 0], [14, 0], [14, 18], [7, 18], [7, 7], [0, 7]] }, style: { fill: "#000000" } },
        { type: "polygon", z: 70, shape: { points: [[27.5, 0], [35.5, 0], [28, 18], [20, 18]] }, style: { fill: "#000000" } },
        { type: "circle", z: 70, shape: { cx: 20, cy: 4, r: 4 }, style: { fill: "#000000" } },
      ],
    },
    label(49, 1241, "TradingView", "#000000", 20, { fontWeight: 600 }),
  ];
}

export default function App() {
  const ref = useRef<HTMLDivElement>(null);
  useEffect(() => {
    if (!ref.current) return;
    const chart = echarts.init(ref.current, undefined, { renderer: "svg" });
    chart.setOption(buildOption() as any);
    chart.setOption({ graphic: overlayGraphics(chart) } as any);
    return () => chart.dispose();
  }, []);
  return <div ref={ref} style={{ position: "absolute", left: 0, top: 0, width: 2475, height: 1271 }} />;
}
